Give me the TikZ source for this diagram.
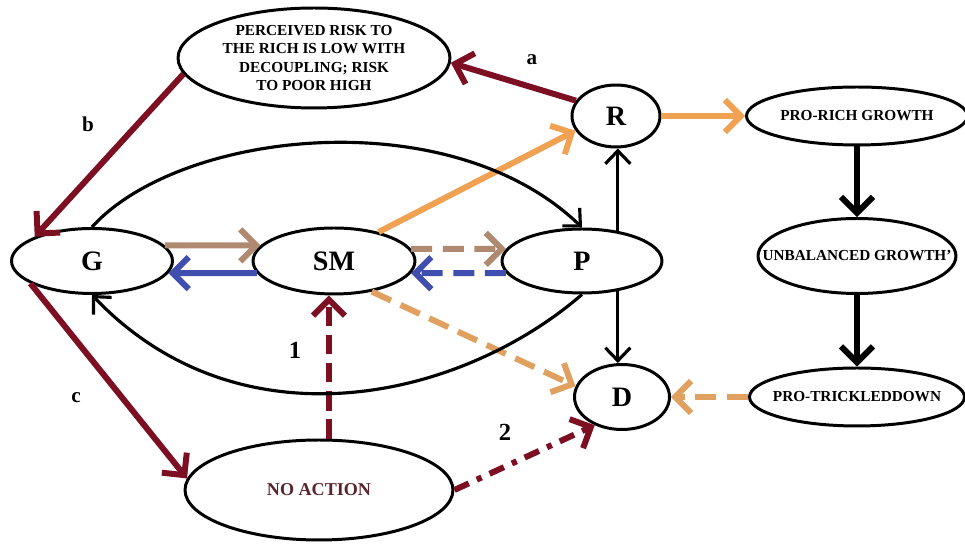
\documentclass[tikz,border=0pt]{standalone}
\usepackage{fontspec}
\setmainfont{Liberation Serif}
\usetikzlibrary{shapes.geometric,arrows.meta,calc}
\definecolor{mymaroon}{RGB}{125,15,35}
\definecolor{mytan}{RGB}{176,138,112}
\definecolor{myblue}{RGB}{64,78,176}
\definecolor{myorange}{RGB}{240,162,82}
\definecolor{myorangedash}{RGB}{224,160,96}
\definecolor{mytextred}{RGB}{90,35,45}
\tikzset{
  ell/.style={ellipse, draw=black, line width=1.7pt, inner sep=0pt, font=\bfseries},
  bigtxt/.style={font=\bfseries\fontsize{16}{18}\selectfont},
  smalltxt/.style={font=\bfseries\fontsize{8.7}{10.4}\selectfont},
  lab/.style={font=\bfseries\fontsize{12}{14}\selectfont, inner sep=0pt},
  numlab/.style={font=\bfseries\fontsize{14}{16}\selectfont, inner sep=0pt},
  thickarr/.style={line width=3.4pt, -{Straight Barb[length=3.2mm,width=6.4mm]}},
  thinarr/.style={line width=1.8pt, draw=black, -{Straight Barb[length=2.6mm,width=5mm]}},
  dsh/.style={dash pattern=on 12pt off 6pt},
}
\begin{document}
\begin{tikzpicture}[x=0.02cm,y=-0.02cm]
\fill[white] (0,0) rectangle (965,546);
\useasboundingbox (0,0) rectangle (965,546);

% nodes
\node[ell, smalltxt, align=center, minimum width=5.44cm, minimum height=2cm] (perc) at (314,58)
  {PERCEIVED RISK TO\\THE RICH IS LOW WITH\\DECOUPLING; RISK\\TO POOR HIGH};
\node[ell, bigtxt, minimum width=1.76cm, minimum height=1.24cm] (R) at (616,116) {R};
\node[ell, bigtxt, minimum width=3.22cm, minimum height=1.3cm] (G) at (92,261) {G};
\node[ell, bigtxt, minimum width=3.24cm, minimum height=1.32cm] (SM) at (334,261) {SM};
\node[ell, bigtxt, minimum width=3.2cm, minimum height=1.28cm] (P) at (582,261) {P};
\node[ell, bigtxt, minimum width=1.9cm, minimum height=1.3cm] (D) at (622,397) {D};
\node[ell, smalltxt, minimum width=4.42cm, minimum height=1.16cm] (RG) at (857,116) {\makebox[0pt]{PRO-RICH GROWTH}};
\node[ell, smalltxt, minimum width=3.96cm, minimum height=1.5cm] (UB) at (857,256) {\makebox[0pt]{UNBALANCED GROWTH'}};
\node[ell, smalltxt, minimum width=4.3cm, minimum height=1.16cm] (PT) at (857,397) {\makebox[0pt]{PRO-TRICKLEDDOWN}};
\node[ell, font=\bfseries\fontsize{10.3}{12}\selectfont, text=mytextred, minimum width=5.36cm, minimum height=2cm] (NA) at (319,490) {NO ACTION};

% labels
\node[lab] (la) at (532,60) {a};
\node[lab] (lb) at (88,124) {b};
\node[lab] (lc) at (76,398) {c};
\node[numlab] (l1) at (295,350) {1};
\node[numlab] (l2) at (505,432) {2};

% maroon arrows
\draw[thickarr, draw=mymaroon] (R.159) -- (perc.-2);
\draw[thickarr, draw=mymaroon] (perc.187) -- (G.157);
\draw[thickarr, draw=mymaroon] (G.200) -- (NA.175);
\draw[thickarr, draw=mymaroon, dash pattern=on 11pt off 5pt] (NA.79) -- (NA.79 |- SM.south);
\draw[thickarr, draw=mymaroon, dash pattern=on 9pt off 5pt on 3pt off 5pt] (NA.east) -- (D.226);

% G <-> SM
\draw[thickarr, draw=mytan] (G.12) -- (SM.168);
\draw[thickarr, draw=myblue] (SM.189) -- (G.-9);
% SM <-> P dashed
\draw[thickarr, draw=mytan, dsh] (SM.9) -- (P.171);
\draw[thickarr, draw=myblue, dsh] (P.189) -- (SM.-9);

% orange
\draw[thickarr, draw=myorange] (SM.33) -- (R.200);
\draw[thickarr, draw=myorangedash, dsh] (SM.-39) -- (D.167);
\draw[thickarr, draw=myorange] (R.east) -- (RG.west);
\draw[thickarr, draw=myorangedash, dsh] (PT.west) -- (D.east);

% black thick
\draw[thickarr, draw=black] (RG.south) -- (UB.north);
\draw[thickarr, draw=black] (UB.south) -- (PT.north);

% black thin
\draw[thinarr] (P.40) -- (P.40 |- R.south);
\draw[thinarr] (P.-40) -- (P.-40 |- D.north);
\draw[thinarr] (G.north) .. controls (180,130) and (450,100) .. (P.north);
\draw[thinarr] (P.south) .. controls (460,400) and (240,450) .. (G.south);
\end{tikzpicture}
\end{document}
